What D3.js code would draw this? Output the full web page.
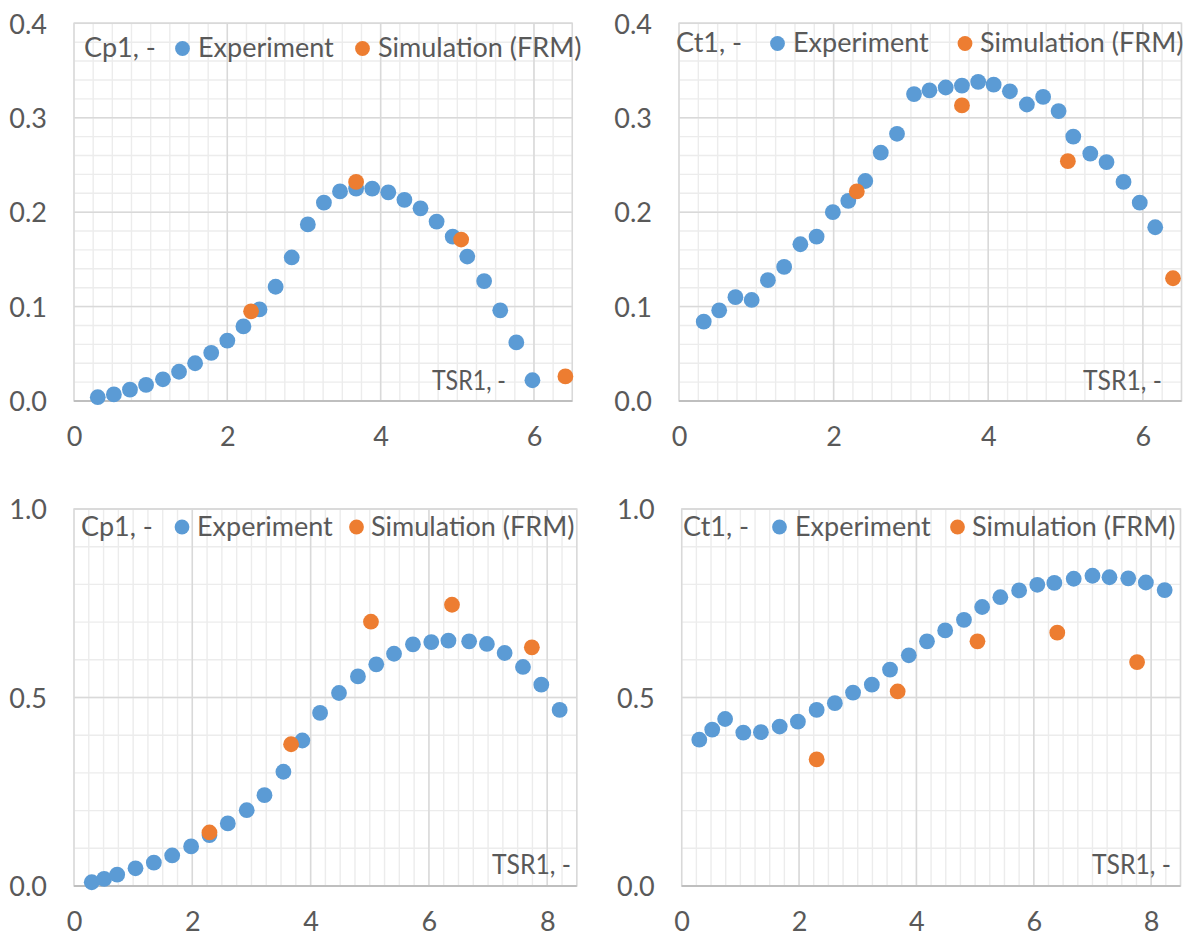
<!DOCTYPE html>
<html>
<head>
<meta charset="utf-8">
<script src="https://cdn.jsdelivr.net/npm/d3@7"></script>
<style>
  html, body { margin: 0; padding: 0; background: #ffffff; }
  svg { display: block; }
  text { font-family: Lato, "Open Sans", sans-serif; fill: #595959; }
</style>
</head>
<body>
<svg id="chart" width="1196" height="937"></svg>
<script>
// ---------------- DATA ----------------
const seriesNames = ["Experiment", "Simulation (FRM)"];
const xAxisTitle = "TSR1, -";

// Panel A: Cp1 (top-left)
const expA_tsr = [0.31,0.52,0.73,0.94,1.16,1.37,1.58,1.79,2.00,2.21,2.42,2.63,2.84,3.05,3.26,3.47,3.68,3.89,4.10,4.31,4.52,4.73,4.94,5.13,5.35,5.56,5.77,5.98];
const expA_val = [0.004,0.007,0.012,0.017,0.023,0.031,0.040,0.051,0.064,0.079,0.097,0.121,0.152,0.187,0.210,0.222,0.225,0.225,0.221,0.213,0.204,0.190,0.174,0.153,0.127,0.096,0.062,0.022];
const simA_tsr = [2.31,3.68,5.05,6.41];
const simA_val = [0.095,0.232,0.171,0.026];

// Panel B: Ct1 (top-right)
const expB_tsr = [0.32,0.52,0.73,0.94,1.15,1.36,1.57,1.78,1.99,2.19,2.41,2.61,2.82,3.04,3.24,3.45,3.66,3.87,4.07,4.28,4.50,4.71,4.91,5.10,5.32,5.53,5.75,5.96,6.16];
const expB_val = [0.084,0.096,0.110,0.107,0.128,0.142,0.166,0.174,0.200,0.212,0.233,0.263,0.283,0.325,0.329,0.332,0.334,0.338,0.335,0.328,0.314,0.322,0.307,0.280,0.262,0.253,0.232,0.210,0.184];
const simB_tsr = [2.30,3.66,5.03,6.39];
const simB_val = [0.222,0.313,0.254,0.130];

// Panel C: Cp1 (bottom-left)
const expC_tsr = [0.30,0.51,0.73,1.04,1.35,1.66,1.98,2.29,2.60,2.92,3.22,3.54,3.86,4.16,4.48,4.80,5.11,5.41,5.73,6.04,6.33,6.68,6.98,7.28,7.59,7.90,8.21];
const expC_val = [0.010,0.019,0.030,0.047,0.062,0.081,0.105,0.135,0.166,0.201,0.241,0.303,0.386,0.459,0.512,0.556,0.588,0.616,0.641,0.647,0.651,0.649,0.642,0.618,0.581,0.534,0.467];
const simC_tsr = [2.29,3.67,5.02,6.39,7.74];
const simC_val = [0.142,0.376,0.701,0.746,0.633];

// Panel D: Ct1 (bottom-right)
const expD_tsr = [0.30,0.52,0.74,1.05,1.35,1.67,1.98,2.30,2.61,2.92,3.24,3.55,3.87,4.18,4.49,4.81,5.12,5.43,5.75,6.06,6.35,6.68,7.00,7.29,7.61,7.91,8.23];
const expD_val = [0.388,0.415,0.443,0.407,0.408,0.423,0.436,0.467,0.485,0.513,0.534,0.574,0.612,0.649,0.678,0.706,0.740,0.766,0.784,0.799,0.804,0.815,0.823,0.819,0.816,0.805,0.785];
const simD_tsr = [2.30,3.68,5.04,6.40,7.76];
const simD_val = [0.336,0.516,0.649,0.672,0.594];

// Tick labels
const xTicksTop = [0, 2, 4, 6];
const xTicksBottom = [0, 2, 4, 6, 8];
const yTicksTop = [0.0, 0.1, 0.2, 0.3, 0.4];
const yTicksBottom = [0.0, 0.5, 1.0];

// ---------------- LAYOUT ----------------
const colors = ["#5B9BD5", "#ED7D31"];
const FS = 27;

const panels = [
  { yTitle: "Cp1, -", exp: [expA_tsr, expA_val], sim: [simA_tsr, simA_val],
    l: 74, r: 572.3, t: 23.3, b: 401, xMax: 6.5, yMax: 0.4,
    xTicks: xTicksTop, yTicks: yTicksTop, xMinor: 0.25, yMinor: 0.02,
    titleX: 84, dot1: 182.5, txt1: 198, dot2: 362.5, txt2: 378, legY: 48.5,
    tsrRight: 506, tsrW: 74, tsrBase: 390, xLabBase: 446 },
  { yTitle: "Ct1, -", exp: [expB_tsr, expB_val], sim: [simB_tsr, simB_val],
    l: 679, r: 1181.5, t: 23.3, b: 401, xMax: 6.5, yMax: 0.4,
    xTicks: xTicksTop, yTicks: yTicksTop, xMinor: 0.25, yMinor: 0.02,
    titleX: 676, dot1: 777.5, txt1: 793, dot2: 965, txt2: 980, legY: 43.5,
    tsrRight: 1162, tsrW: 79, tsrBase: 390, xLabBase: 446 },
  { yTitle: "Cp1, -", exp: [expC_tsr, expC_val], sim: [simC_tsr, simC_val],
    l: 74, r: 576.8, t: 509, b: 886, xMax: 8.5, yMax: 1.0,
    xTicks: xTicksBottom, yTicks: yTicksBottom, xMinor: 0.25, yMinor: 0.1,
    titleX: 81, dot1: 182, txt1: 197, dot2: 356.5, txt2: 371, legY: 527,
    tsrRight: 571, tsrW: 79, tsrBase: 874, xLabBase: 930.5 },
  { yTitle: "Ct1, -", exp: [expD_tsr, expD_val], sim: [simD_tsr, simD_val],
    l: 681.7, r: 1180.5, t: 509, b: 886, xMax: 8.5, yMax: 1.0,
    xTicks: xTicksBottom, yTicks: yTicksBottom, xMinor: 0.25, yMinor: 0.1,
    titleX: 683, dot1: 779.5, txt1: 795, dot2: 957.5, txt2: 972, legY: 527,
    tsrRight: 1171, tsrW: 79, tsrBase: 874, xLabBase: 930.5 }
];

const svg = d3.select("#chart");

panels.forEach(p => {
  const x = d3.scaleLinear().domain([0, p.xMax]).range([p.l, p.r]);
  const y = d3.scaleLinear().domain([0, p.yMax]).range([p.b, p.t]);
  const g = svg.append("g");

  // minor gridlines
  const xMinorVals = d3.range(0, p.xMax + 1e-9, p.xMinor);
  const yMinorVals = d3.range(0, p.yMax + 1e-9, p.yMinor);
  g.append("g").selectAll("line").data(xMinorVals).join("line")
    .attr("x1", d => x(d)).attr("x2", d => x(d)).attr("y1", p.t).attr("y2", p.b)
    .attr("stroke", "#ececec").attr("stroke-width", 1.4);
  g.append("g").selectAll("line").data(yMinorVals).join("line")
    .attr("x1", p.l).attr("x2", p.r).attr("y1", d => y(d)).attr("y2", d => y(d))
    .attr("stroke", "#ececec").attr("stroke-width", 1.4);

  // major gridlines
  g.append("g").selectAll("line").data(p.xTicks.filter(d => d > 0)).join("line")
    .attr("x1", d => x(d)).attr("x2", d => x(d)).attr("y1", p.t).attr("y2", p.b)
    .attr("stroke", "#d9d9d9").attr("stroke-width", 1.5);
  g.append("g").selectAll("line").data(p.yTicks.filter(d => d > 0)).join("line")
    .attr("x1", p.l).attr("x2", p.r).attr("y1", d => y(d)).attr("y2", d => y(d))
    .attr("stroke", "#d9d9d9").attr("stroke-width", 1.5);

  // plot border
  g.append("rect").attr("x", p.l).attr("y", p.t).attr("width", p.r - p.l).attr("height", p.b - p.t)
    .attr("fill", "none").attr("stroke", "#d9d9d9").attr("stroke-width", 1.5);

  // x axis line
  g.append("line").attr("x1", p.l).attr("x2", p.r).attr("y1", p.b).attr("y2", p.b)
    .attr("stroke", "#bfbfbf").attr("stroke-width", 1.8);

  // axes labels via d3 axes
  const xAxis = d3.axisBottom(x).tickValues(p.xTicks).tickFormat(d3.format("d")).tickSize(0).tickPadding(0);
  const xg = g.append("g").attr("transform", `translate(0,${p.xLabBase})`).call(xAxis);
  xg.select(".domain").remove();
  xg.selectAll("text").attr("dy", null).attr("y", 0)
    .style("font-family", "Lato").style("font-size", FS + "px").attr("fill", "#595959");

  const yAxis = d3.axisLeft(y).tickValues(p.yTicks).tickFormat(d3.format(".1f")).tickSize(0).tickPadding(0);
  const yg = g.append("g").attr("transform", `translate(${p.l - 27},0)`).call(yAxis);
  yg.select(".domain").remove();
  yg.selectAll("text").attr("dy", "0.36em").attr("x", 0)
    .style("font-family", "Lato").style("font-size", FS + "px").attr("fill", "#595959");

  // data points
  const expPts = p.exp[0].map((t, i) => [t, p.exp[1][i]]);
  const simPts = p.sim[0].map((t, i) => [t, p.sim[1][i]]);
  g.append("g").selectAll("circle").data(expPts).join("circle")
    .attr("cx", d => x(d[0])).attr("cy", d => y(d[1])).attr("r", 7.9).attr("fill", colors[0]);
  g.append("g").selectAll("circle").data(simPts).join("circle")
    .attr("cx", d => x(d[0])).attr("cy", d => y(d[1])).attr("r", 7.9).attr("fill", colors[1]);

  // title + legend
  const base = p.legY + 8.5;
  g.append("text").attr("x", p.titleX).attr("y", base).style("font-size", FS + "px").text(p.yTitle);
  g.append("circle").attr("cx", p.dot1).attr("cy", p.legY).attr("r", 7.4).attr("fill", colors[0]);
  g.append("text").attr("x", p.txt1).attr("y", base).style("font-size", FS + "px").text(seriesNames[0]);
  g.append("circle").attr("cx", p.dot2).attr("cy", p.legY).attr("r", 7.4).attr("fill", colors[1]);
  g.append("text").attr("x", p.txt2).attr("y", base).style("font-size", FS + "px").text(seriesNames[1]);

  // x axis title inside plot
  g.append("text").attr("x", p.tsrRight - p.tsrW).attr("y", p.tsrBase)
    .attr("textLength", p.tsrW).attr("lengthAdjust", "spacingAndGlyphs")
    .style("font-size", FS + "px").text(xAxisTitle);
});
</script>
</body>
</html>
